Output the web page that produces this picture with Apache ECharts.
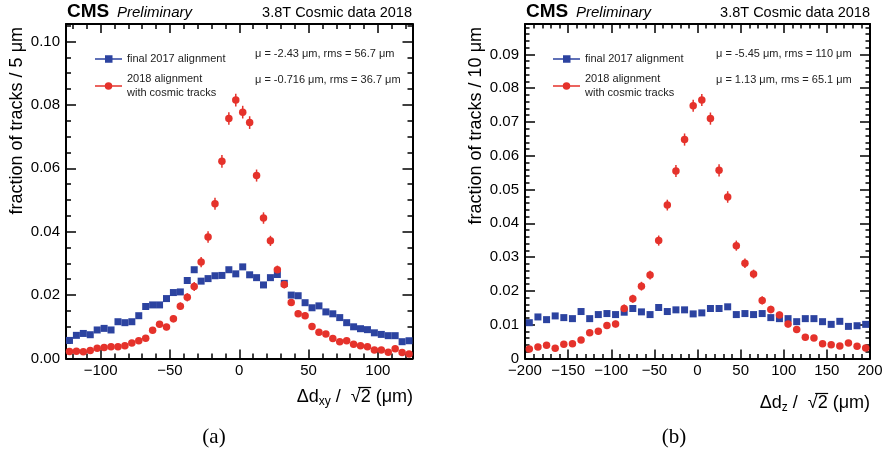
<!DOCTYPE html>
<html>
<head>
<meta charset="utf-8">
<script src="https://cdn.jsdelivr.net/npm/echarts@6/dist/echarts.min.js"></script>
<style>
  html, body { margin: 0; padding: 0; background: #fff; }
  #main { width: 888px; height: 456px; }
</style>
</head>
<body>
<div id="main"></div>
<script>
// (a) delta d_xy / sqrt2, 5 um bins
const xyBins = [-122.5,-117.5,-112.5,-107.5,-102.5,-97.5,-92.5,-87.5,-82.5,-77.5,-72.5,-67.5,-62.5,-57.5,-52.5,-47.5,-42.5,-37.5,-32.5,-27.5,-22.5,-17.5,-12.5,-7.5,-2.5,2.5,7.5,12.5,17.5,22.5,27.5,32.5,37.5,42.5,47.5,52.5,57.5,62.5,67.5,72.5,77.5,82.5,87.5,92.5,97.5,102.5,107.5,112.5,117.5,122.5]
const xy2017 = [0.0057,0.0073,0.0079,0.0075,0.0090,0.0095,0.0090,0.0116,0.0113,0.0116,0.0135,0.0164,0.0169,0.0169,0.0189,0.0208,0.0210,0.0246,0.0280,0.0244,0.0252,0.0261,0.0262,0.0280,0.0267,0.0289,0.0264,0.0255,0.0232,0.0255,0.0265,0.0237,0.0200,0.0198,0.0176,0.0160,0.0166,0.0147,0.0141,0.0129,0.0113,0.0100,0.0094,0.0091,0.0081,0.0076,0.0072,0.0072,0.0053,0.0056]
const xy2018 = [0.0022,0.0023,0.0021,0.0025,0.0032,0.0035,0.0037,0.0037,0.0040,0.0049,0.0056,0.0064,0.0089,0.0108,0.0099,0.0125,0.0165,0.0193,0.0227,0.0304,0.0383,0.0488,0.0622,0.0757,0.0815,0.0777,0.0744,0.0577,0.0443,0.0371,0.0280,0.0233,0.0177,0.0141,0.0135,0.0101,0.0083,0.0077,0.0063,0.0053,0.0056,0.0045,0.0040,0.0037,0.0027,0.0027,0.0020,0.0031,0.0019,0.0014]
const xy2018Err = [0.0005,0.0005,0.0005,0.0005,0.0006,0.0006,0.0006,0.0006,0.0006,0.0007,0.0007,0.0008,0.0009,0.0010,0.0010,0.0011,0.0012,0.0013,0.0014,0.0016,0.0018,0.0019,0.0020,0.0020,0.0020,0.0020,0.0020,0.0019,0.0018,0.0016,0.0013,0.0012,0.0011,0.0010,0.0010,0.0009,0.0008,0.0008,0.0007,0.0007,0.0007,0.0006,0.0006,0.0006,0.0005,0.0005,0.0005,0.0005,0.0005,0.0004]

// (b) delta d_z / sqrt2, 10 um bins
const zBins = [-195,-185,-175,-165,-155,-145,-135,-125,-115,-105,-95,-85,-75,-65,-55,-45,-35,-25,-15,-5,5,15,25,35,45,55,65,75,85,95,105,115,125,135,145,155,165,175,185,195]
const z2017 = [0.0106,0.0123,0.0115,0.0126,0.0121,0.0118,0.0139,0.0118,0.0130,0.0133,0.0130,0.0137,0.0148,0.0138,0.0130,0.0151,0.0139,0.0144,0.0144,0.0132,0.0135,0.0148,0.0148,0.0153,0.0130,0.0133,0.0130,0.0133,0.0121,0.0118,0.0118,0.0109,0.0118,0.0118,0.0109,0.0101,0.0110,0.0095,0.0097,0.0101]
const z2018 = [0.0028,0.0034,0.0039,0.0030,0.0042,0.0044,0.0055,0.0076,0.0081,0.0098,0.0102,0.0148,0.0177,0.0214,0.0247,0.0349,0.0454,0.0555,0.0648,0.0748,0.0765,0.0710,0.0557,0.0478,0.0334,0.0282,0.0250,0.0172,0.0145,0.0129,0.0102,0.0086,0.0063,0.0061,0.0044,0.0041,0.0037,0.0046,0.0036,0.0031]
const z2018Err = [0.0006,0.0006,0.0006,0.0006,0.0007,0.0007,0.0008,0.0009,0.0009,0.0010,0.0010,0.0012,0.0012,0.0013,0.0013,0.0015,0.0016,0.0018,0.0018,0.0018,0.0018,0.0018,0.0018,0.0017,0.0015,0.0014,0.0013,0.0012,0.0011,0.0010,0.0010,0.0009,0.0008,0.0008,0.0007,0.0007,0.0006,0.0007,0.0006,0.0006]

// tick labels
const xyXTicks = [-100,-50,0,50,100]
const zXTicks = [-200,-150,-100,-50,0,50,100,150,200]
const xyYTicks = [0,0.02,0.04,0.06,0.08,0.10]
const zYTicks = [0,0.01,0.02,0.03,0.04,0.05,0.06,0.07,0.08,0.09]

const seriesNames = ['final 2017 alignment', '2018 alignment with cosmic tracks']
const statsXY = ['μ = -2.43 μm, rms = 56.7 μm', 'μ = -0.716 μm, rms = 36.7 μm']
const statsZ = ['μ = -5.45 μm, rms = 110 μm', 'μ = 1.13 μm, rms = 65.1 μm']

const BLUE = '#2c43a0'
const RED = '#e5322b'
const FONT = 'Liberation Sans'

function steps(a, b, s) {
  let out = []
  for (let i = 0; a + i * s <= b + 1e-9; i++) out.push(Math.round((a + i * s) * 1e6) / 1e6)
  return out
}

// four axes per direction: near major (labels), near minor, far major, far minor
function makeAxes(g, min, max, majors, minors, fmt, isX, majLen, minLen) {
  const pos = isX ? ['bottom', 'top'] : ['left', 'right']
  let axes = []
  pos.forEach((p, k) => {
    [true, false].forEach(major => {
      axes.push({
        gridIndex: g,
        type: 'value',
        position: p,
        min: min,
        max: max,
        axisLine: { show: major, onZero: false, lineStyle: { color: '#000', width: 2 } },
        axisTick: {
          show: true, inside: true,
          length: major ? majLen : minLen,
          customValues: major ? majors : minors,
          lineStyle: { color: '#000', width: 1.5 }
        },
        axisLabel: {
          show: major && k === 0,
          customValues: majors,
          formatter: fmt,
          fontFamily: FONT, fontSize: 15, color: '#000',
          margin: isX ? 5 : 6
        },
        splitLine: { show: false }
      })
    })
  })
  return axes
}

const minus = v => (v < 0 ? '\u2212' + (-v) : '' + v)

let xAxes = [].concat(
  makeAxes(0, -125, 125, xyXTicks, steps(-120, 120, 10), minus, true, 9, 5),
  makeAxes(1, -200, 200, zXTicks, steps(-200, 200, 10), minus, true, 9, 4.5)
)
let yAxes = [].concat(
  makeAxes(0, 0, 0.1055, xyYTicks, steps(0, 0.105, 0.005), v => v.toFixed(2), false, 10, 5),
  makeAxes(1, 0, 0.099, zYTicks, steps(0, 0.098, 0.002), v => (v === 0 ? '0' : v.toFixed(2)), false, 10, 4.5)
)

function pts(xs, ys) { return xs.map((x, i) => [x, ys[i]]) }
function errPts(xs, ys, es) { return xs.map((x, i) => [x, ys[i], es[i]]) }

function errSeries(ax, xs, ys, es) {
  return {
    type: 'custom',
    xAxisIndex: ax, yAxisIndex: ax,
    silent: true,
    renderItem: function (params, api) {
      let x = api.value(0), y = api.value(1), e = api.value(2)
      let a = api.coord([x, y - e]), b = api.coord([x, y + e])
      return { type: 'line', shape: { x1: a[0], y1: a[1], x2: b[0], y2: b[1] }, style: { stroke: RED, lineWidth: 1.5 } }
    },
    data: errPts(xs, ys, es)
  }
}

function panel(ax, xs, blue, red, redErr) {
  return [
    { name: seriesNames[0], type: 'scatter', xAxisIndex: ax, yAxisIndex: ax, symbol: 'rect', symbolSize: 7,
      itemStyle: { color: BLUE, opacity: 1 }, data: pts(xs, blue) },
    errSeries(ax, xs, red, redErr),
    { name: seriesNames[1], type: 'scatter', xAxisIndex: ax, yAxisIndex: ax, symbol: 'circle', symbolSize: 7.5,
      itemStyle: { color: RED, opacity: 1 }, data: pts(xs, red) }
  ]
}

const iconSquare = 'path://M0,3H27V4.5H0Z M10,0H17.5V7.5H10Z'
const iconCircle = 'path://M0,3H27V4.5H0Z M17.25,3.75A3.75,3.75,0,1,1,9.75,3.75A3.75,3.75,0,1,1,17.25,3.75Z'

function legend(left) {
  return {
    orient: 'vertical', left: left, top: 47, itemGap: 6,
    itemWidth: 27, itemHeight: 7.5, selectedMode: false,
    textStyle: { fontFamily: FONT, fontSize: 11, lineHeight: 14, color: '#222' },
    formatter: n => (n === seriesNames[1] ? '2018 alignment\nwith cosmic tracks' : n),
    data: [{ name: seriesNames[0], icon: iconSquare }, { name: seriesNames[1], icon: iconCircle }]
  }
}

function txt(x, y, s, font, align, fill) {
  return { type: 'text', x: x, y: y, silent: true,
    style: { text: s, font: font, fill: fill || '#000', align: align || 'left', verticalAlign: 'middle' } }
}

function header(x0, x1) {
  return [
    txt(x0, 12, 'CMS', 'bold 19px ' + FONT),
    txt(x0 + 50, 13, 'Preliminary', 'italic 15px ' + FONT),
    txt(x1, 13, '3.8T Cosmic data 2018', '14.5px ' + FONT, 'right')
  ]
}

function stats(x, lines) {
  return [
    txt(x, 54, lines[0], '11px ' + FONT, 'left', '#222'),
    txt(x, 80, lines[1], '11px ' + FONT, 'left', '#222')
  ]
}

function ytitle(x, s) {
  return { type: 'text', x: x, y: 27, rotation: Math.PI / 2, silent: true,
    style: { text: s, font: '18px ' + FONT, fill: '#000', align: 'right', verticalAlign: 'middle' } }
}

// x title with the bar over the 2 of the square root
const measure = document.createElement('canvas').getContext('2d')
function textWidth(s, font) { measure.font = font; return measure.measureText(s).width }

function xtitle(xr, y, sub) {
  const f = '18px ' + FONT
  const tail = textWidth(' (μm)', f)
  const two = textWidth('2', f)
  const root = textWidth('√', f)
  return [
    { type: 'text', x: xr, y: y, silent: true,
      style: {
        text: '{a|Δd}{s|' + sub + '}{a| /  √2 (μm)}',
        align: 'right', verticalAlign: 'middle',
        rich: {
          a: { fontFamily: FONT, fontSize: 18, fill: '#000' },
          s: { fontFamily: FONT, fontSize: 12, fill: '#000', padding: [10, 0, 0, 0] }
        }
      } },
    { type: 'line', silent: true,
      shape: { x1: xr - tail - two - root * 0.25, y1: y - 9.5, x2: xr - tail + 0.5, y2: y - 9.5 },
      style: { stroke: '#000', lineWidth: 1.2 } }
  ]
}

let chart = echarts.init(document.getElementById('main'), null, { renderer: 'canvas' })
chart.setOption({
  animation: false,
  backgroundColor: '#fff',
  grid: [
    { left: 66, top: 24, width: 346.5, height: 334.5 },
    { left: 525, top: 24, width: 345, height: 334.5 }
  ],
  xAxis: xAxes,
  yAxis: yAxes,
  legend: [legend(90), legend(548)],
  series: [].concat(panel(0, xyBins, xy2017, xy2018, xy2018Err), panel(4, zBins, z2017, z2018, z2018Err)),
  graphic: [].concat(
    header(67, 412), header(526, 870),
    stats(255, statsXY), stats(716, statsZ),
    [ytitle(17, 'fraction of tracks / 5 μm'), ytitle(476, 'fraction of tracks / 10 μm')],
    xtitle(413, 397, 'xy'), xtitle(870, 403, 'z'),
    [txt(214, 437, '(a)', '21px Liberation Serif', 'center'), txt(674, 437, '(b)', '21px Liberation Serif', 'center')]
  )
})
</script>
</body>
</html>
